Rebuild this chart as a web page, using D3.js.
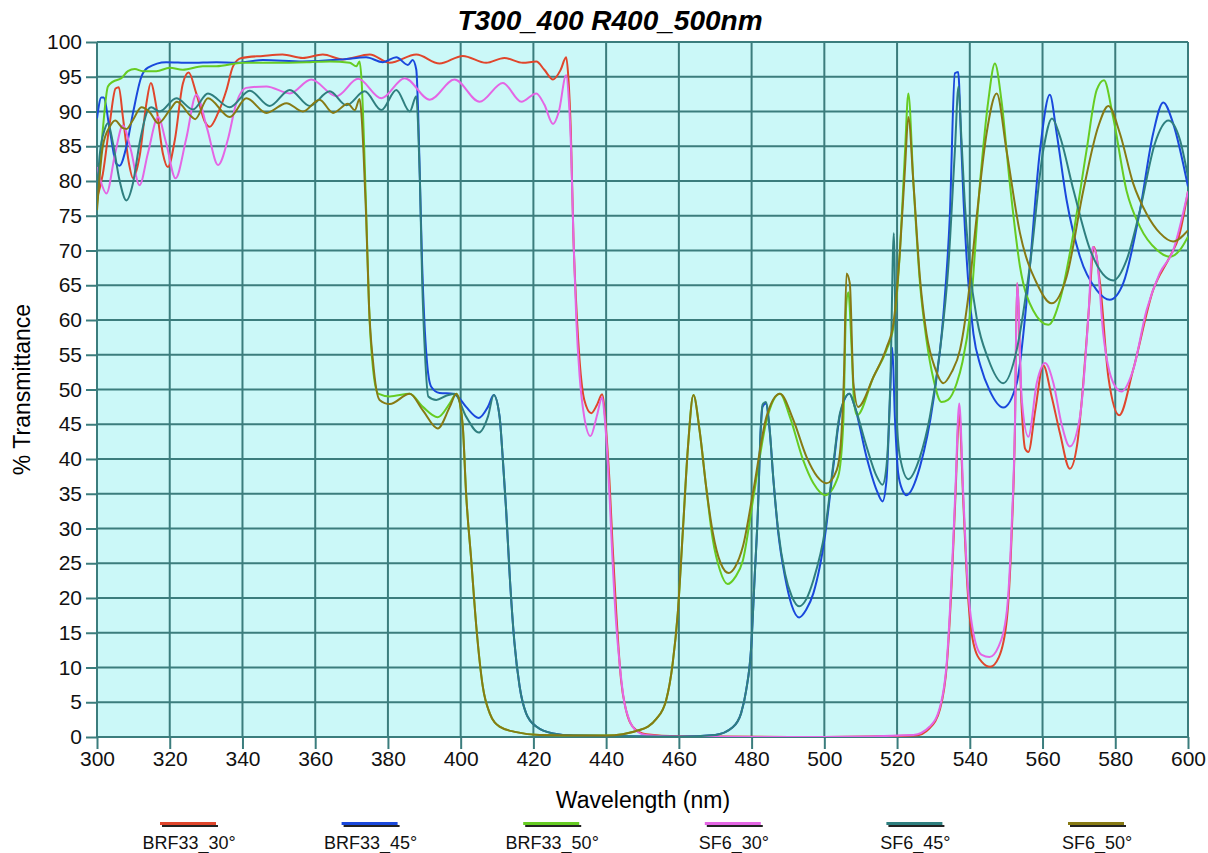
<!DOCTYPE html>
<html>
<head>
<meta charset="utf-8">
<script src="https://cdn.jsdelivr.net/npm/d3@7"></script>
<style>
  body { margin: 0; background: #fff; }
  text { font-family: "Liberation Sans", Arial, sans-serif; }
</style>
</head>
<body>
<div id="chart-holder"></div>
<script>
// Transmittance curves, [wavelength nm, % T]
const brf33_30 = [[300,77.5],[301.6,81],[303.5,88.3],[305.1,93.3],[306,93.5],[307.1,89.3],[308.8,82.5],[309.9,80.4],[311.7,83.5],[313.6,91.2],[314.8,94.1],[316.3,90.7],[318.1,84],[319.5,82],[321.4,85.9],[323.6,94],[325.2,95.6],[327.3,92.6],[329.6,88.6],[331,87.8],[333.3,89.8],[335.6,93.1],[337.4,96.5],[339.7,97.7],[345.6,98],[351,98.2],[356.6,97.7],[362.1,98.2],[367.6,97.5],[375,98.2],[380.5,97],[387.8,98.2],[394.2,96.9],[400.6,98],[407,97],[412,97.7],[417.1,97],[420.8,97.2],[423,96],[425.4,94.6],[427.5,96],[429,97.8],[429.6,95],[430.3,87],[431,72],[431.8,62],[432.7,54.2],[434,48.5],[435.9,46.6],[437.5,47.8],[438.9,49.3],[440,44.1],[440.9,37],[441.8,27.3],[442.8,17.8],[444.1,8.2],[445.5,3.8],[447.3,1.5],[451,0.4],[460,0.1],[500,0],[525,0.2],[529,1.3],[531.8,4],[533.7,10.5],[535,22],[536,34],[537.1,46.5],[538.2,34],[539.3,22],[541,13.5],[543.3,10.8],[545.6,10.1],[548,11.5],[550.2,17],[551.5,29],[552.4,44],[553,65.3],[554.2,48],[555.2,41.5],[556.1,41],[558,47],[560.2,53.5],[562.5,49],[564.8,43.7],[567.5,38.6],[569.5,42],[571.2,50.9],[572.8,62],[574.1,70.5],[575.8,65.3],[578.1,51.8],[581.1,46.3],[584.9,52.8],[590.4,64.3],[595,69.1],[597.5,72],[600,78.5]];

const brf33_45 = [[300,89],[301.2,92],[301.8,92],[303.5,87.4],[305.3,82.5],[306.2,82.2],[308.1,85],[309.9,89.8],[312.2,95],[314,96.3],[319,97.1],[325.5,97],[332.8,97.1],[338.3,97],[345.6,97.4],[356.6,97.2],[367.6,97.5],[374,97.8],[378.6,97.1],[382.3,97.8],[385.5,96.7],[386.8,97.4],[387.8,96],[388.3,90],[388.8,80],[389.4,68],[390,60],[390.7,54.2],[391.9,50.4],[394.2,49.5],[397.9,49.4],[399.2,49],[401.5,47.5],[405,45.9],[407.5,47.5],[409.1,49.2],[410.7,46.1],[411.6,39.9],[412.5,32.7],[413.5,23.1],[414.8,13.5],[416.2,7.3],[418,3.4],[420.8,1.5],[425.4,0.5],[431,0.2],[460,0.05],[470,0.3],[474.8,1.4],[477.1,3.4],[478.5,6.7],[479.9,13],[480.8,22.6],[481.7,32.1],[482.5,44.2],[483,47.5],[483.9,48],[484.9,44.5],[486,37],[487.3,29.5],[489.2,23],[491,19],[493.1,17.2],[495,18.3],[497,20.7],[500.2,29],[502.5,39],[504.3,46.3],[506.9,49.4],[508.4,47.5],[511.6,40.3],[514.4,35.5],[516,33.9],[517.1,37],[518,48],[518.7,56],[519.4,46],[520.3,38],[521.5,35.5],[522.6,34.8],[526.3,38.9],[530,48.5],[532.7,60.5],[534.5,74.9],[535.9,95.5],[536.8,95.7],[537.6,86],[538.3,77],[539.5,66],[541,58],[543,53.3],[545.5,49.8],[549.2,47.4],[552.9,50.9],[556.1,65.3],[559.3,84.4],[562,92.4],[563.9,86.8],[566.6,77.3],[570.3,69.1],[574.9,64.3],[578.5,62.9],[582.2,65.3],[586.8,75.8],[590.4,86.8],[593.2,91.3],[595.9,88.3],[600,79.2]];

const brf33_50 = [[300,76.5],[301.6,87.4],[303,93.6],[304.4,94.3],[306.7,94.8],[308.5,95.8],[310.4,96.1],[312.6,95.8],[316.3,95.8],[320,96.3],[323.6,96],[329.1,96.5],[332.8,96.5],[340.1,97],[349.3,97],[358.5,97.1],[364,97.2],[369.5,97],[371.3,96.5],[372.2,97.2],[372.8,94],[373.4,86],[374,76],[374.8,62],[375.9,53],[377.3,49.4],[380.5,49],[386,49.4],[389.6,47.5],[393.7,46],[397,48],[398.8,49.4],[399.8,48],[400.6,44.6],[401.5,35],[402.9,25.5],[404.3,15.9],[406.1,7.2],[408,3.4],[410.7,1.5],[415.3,0.7],[421.7,0.3],[440,0.2],[449.2,1],[453.8,2.6],[456.5,5.3],[458.3,10.6],[459.7,17.8],[461.1,29.7],[462.5,41.7],[464,49.2],[465.7,44.1],[467.5,36],[469.3,28.5],[471.3,24],[473.4,22],[475.5,23],[477.6,25.4],[480.5,34.5],[484.1,45.5],[487.8,49.4],[490.5,46.1],[494.2,39.8],[497,36.5],[500.2,34.8],[503.8,37.5],[505.2,45],[506,62],[506.6,64],[507.5,56],[508.2,48],[509,46.3],[513.5,51.8],[517.1,55.7],[519,59],[520.8,70],[522.2,84.4],[523.1,92.6],[524.5,79.7],[526.3,65.3],[528.1,57.1],[530,51.5],[532.2,48.2],[534,48.5],[536.4,50.9],[538,54],[540,60.5],[542.8,79.7],[545.1,91.6],[546.9,96.9],[548.7,91.6],[551,79.7],[553.8,67.7],[557.4,61.4],[561.6,59.3],[564.8,62.9],[568.5,72.5],[572.1,84.4],[574.9,93.1],[576.9,94.5],[579.4,89.2],[583.1,78.6],[586.8,73.4],[591.4,70.1],[595,69.1],[597.8,70.1],[600,72]];

const sf6_30 = [[300,82],[301,80],[302.6,78.2],[305,84],[307.1,88],[309.3,84.5],[311.7,79.4],[314,84],[316.8,89.2],[319,85.5],[321.6,80.4],[324.5,86],[327.3,92.4],[330.3,87.5],[333.3,82.3],[336,86],[338.3,91.2],[341,93.4],[346.6,93.6],[353,92.6],[358.9,94.6],[365.8,92.2],[371.8,94.7],[378.2,91.9],[384.6,94.8],[391.5,91.7],[398.3,94.6],[405.2,91.4],[411.6,94.1],[416.7,91.4],[420.8,92.6],[423,91],[425.4,88.2],[427,90],[429,95.2],[429.7,92],[430.4,84],[431,72],[431.8,60],[432.7,52],[434,46],[435.7,43.3],[437.5,46.3],[438.9,48.9],[439.6,46],[440.4,40],[441,34],[441.8,25],[442.8,16],[443.7,10.6],[445,5],[446.4,2.4],[448.5,0.8],[451,0.3],[460,0.05],[500,0],[524.5,0.3],[529,1.5],[531.8,4.3],[533.7,11],[535,23],[536,35],[537.1,48],[538.2,35],[539.3,23],[541,14.9],[543.3,11.8],[545.4,11.5],[547.9,13],[550.2,18.2],[551.5,30.2],[552.4,44.6],[553,65.3],[554.3,48.5],[556.1,43.2],[558.4,50.9],[560.7,53.8],[563,50.9],[565.2,45.1],[567.5,41.8],[570.3,46.1],[572.6,60.5],[573.8,70.5],[574.9,69],[576.7,58],[579.5,50.9],[581.7,49.7],[584.9,52.8],[588.6,61.4],[592.2,66.7],[595.9,70],[600,78.5]];

const sf6_45 = [[300,77],[300.7,83.5],[302.1,87.4],[303,88.3],[304.4,85.4],[306.2,80.1],[308.1,77.2],[309.9,79.7],[311.7,85.4],[314,90.2],[314.9,90.6],[317.2,90],[321.8,91.9],[326.4,90.3],[330.5,92.6],[336.5,90.6],[342,93],[347.5,90.8],[353,93.1],[358.5,90.8],[364,92.9],[368.6,90.9],[373.6,92.9],[378.2,90.2],[382.3,93.1],[386,90],[387.8,92.2],[388.3,88],[388.8,80],[389.4,66],[390.2,55],[391.1,49],[393.3,48.5],[396,49.1],[398.3,49.4],[401.5,46.1],[405,43.8],[407.5,46.1],[409.1,49.2],[410.7,46.1],[411.6,39.9],[412.5,32.7],[413.5,23.1],[414.8,13.5],[416.2,7.3],[418,3.4],[420.8,1.5],[425.4,0.5],[431,0.2],[460,0.05],[470,0.3],[474.8,1.4],[477.1,3.4],[478.5,6.7],[479.9,13],[480.8,22.6],[481.7,32.1],[482.5,44.2],[483,47.8],[483.9,48.2],[484.9,44.7],[486,37],[487.3,29.8],[489.2,23.5],[491,20.3],[493.1,18.8],[495,19.8],[497,22.6],[500.2,29.8],[502.5,39.4],[504.3,46.6],[506.9,49.4],[508.4,47.5],[511.6,41.8],[514.4,37.5],[516,36.3],[517.1,39],[518.2,52],[519.1,72.5],[519.9,46],[520.8,40.3],[523.1,37.1],[526.3,40.3],[529,46],[531.8,55.6],[534.1,67.7],[535.9,84.4],[536.9,93.6],[537.7,86],[538.6,77],[540,67.5],[542,60],[545,54.5],[549.2,50.9],[552.9,55.7],[556.5,67.7],[560.2,84.4],[562.6,89],[564.8,86.4],[568.5,78.7],[573.1,70.1],[579.5,65.7],[583.1,68.6],[586.8,75.8],[590.9,85.4],[594.6,88.7],[597.8,85.9],[600,80.6]];

const sf6_50 = [[300,75.8],[301.6,85],[303.5,87.8],[305,88.7],[307.1,87.6],[308.1,87.5],[309.9,88.8],[312.2,90.6],[314.5,89.9],[316.8,88.3],[320,90.2],[322,91.4],[325.5,89.5],[327,88.9],[330.5,91.9],[336.5,89.2],[341.1,91.9],[346.6,89.8],[352.1,91.2],[356.6,90],[361.2,91.7],[364.9,89.8],[369,91.1],[370.9,90.2],[372.2,91.8],[372.8,89],[373.3,84],[374,75],[374.8,62],[375.9,54],[377.7,48.5],[380.5,47.9],[386,49.4],[389.6,47],[393.7,44.4],[397,47.5],[398.8,49.4],[399.8,48],[400.6,44.6],[401.5,35],[402.9,25.5],[404.3,15.9],[406.1,7.2],[408,3.4],[410.7,1.5],[415.3,0.7],[421.7,0.3],[440,0.2],[449.2,1],[453.8,2.6],[456.5,5.3],[458.3,10.6],[459.7,17.8],[461.1,29.7],[462.5,41.7],[464,49.2],[465.7,44.1],[467.5,36],[469.3,29.5],[471.5,25],[473.7,23.6],[475.5,24.5],[477.6,27.4],[480.5,35.5],[484.1,46.1],[487.8,49.4],[491.5,45.6],[495.1,40.3],[498,37.5],[500.6,36.5],[503.4,38.4],[504.5,42],[505.4,52],[506.1,66.7],[507,65.3],[508,50.9],[509.3,47.5],[513.5,51.8],[517.1,56],[519,59.5],[520.8,70],[522.2,82],[523.1,89.2],[524.5,79.7],[526.3,66],[528.1,58],[530.5,53],[532.7,50.9],[535,52.5],[537.3,55.7],[539.5,63],[541.9,74.9],[544.6,86.8],[547.4,92.6],[550.1,84.4],[553.8,72.5],[558.4,65.3],[562.5,62.4],[566.6,66.2],[571.2,78.6],[575.3,87.8],[578.1,90.8],[581.3,86.8],[584.9,79.7],[588.6,75.3],[592.3,72.5],[595.9,71.3],[600,72.9]];

const seriesNames = ["BRF33_30°", "BRF33_45°", "BRF33_50°", "SF6_30°", "SF6_45°", "SF6_50°"];
const seriesData = [brf33_30, brf33_45, brf33_50, sf6_30, sf6_45, sf6_50];
const seriesColors = ["#e0462c", "#1a48dc", "#66cc22", "#e466e4", "#2f7f7f", "#877a14"];
const xTicks = d3.range(300, 601, 20);
const yTicks = d3.range(0, 101, 5);

const width = 1208;
const height = 853;
const marginTop = 42;
const marginRight = 20;
const marginBottom = 116;
const marginLeft = 97;
const gridColor = "#3b7d7d";

const svg = d3
  .select("#chart-holder")
  .append("svg")
  .attr("width", width)
  .attr("height", height);

const x = d3
  .scaleLinear()
  .domain([300, 600])
  .range([marginLeft, width - marginRight]);

const y = d3
  .scaleLinear()
  .domain([0, 100])
  .range([height - marginBottom, marginTop]);

// plot background
svg
  .append("rect")
  .attr("x", x(300))
  .attr("y", y(100))
  .attr("width", x(600) - x(300))
  .attr("height", y(0) - y(100))
  .attr("fill", "#cbf8f8");

// grid
svg
  .append("g")
  .selectAll("line")
  .data(xTicks)
  .join("line")
  .attr("x1", (d) => x(d))
  .attr("x2", (d) => x(d))
  .attr("y1", y(0))
  .attr("y2", y(100))
  .attr("stroke", gridColor)
  .attr("stroke-width", 2);

svg
  .append("g")
  .selectAll("line")
  .data(yTicks)
  .join("line")
  .attr("x1", x(300))
  .attr("x2", x(600))
  .attr("y1", (d) => y(d))
  .attr("y2", (d) => y(d))
  .attr("stroke", gridColor)
  .attr("stroke-width", 2);

// axes
const xAxis = svg
  .append("g")
  .attr("transform", `translate(0,${y(0)})`)
  .call(d3.axisBottom(x).tickValues(xTicks).tickSize(12).tickPadding(2));

const yAxis = svg
  .append("g")
  .attr("transform", `translate(${x(300)},0)`)
  .call(d3.axisLeft(y).tickValues(yTicks).tickSize(11).tickPadding(4));

[xAxis, yAxis].forEach((g) => {
  g.select(".domain").remove();
  g.selectAll(".tick line").attr("stroke", gridColor).attr("stroke-width", 2);
  g.selectAll(".tick text")
    .attr("fill", "#111")
    .style("font-size", "21px")
    .style("font-family", "'Liberation Sans', Arial, sans-serif");
});

// curves
svg
  .append("clipPath")
  .attr("id", "plot-clip")
  .append("rect")
  .attr("x", x(300))
  .attr("y", y(100))
  .attr("width", x(600) - x(300))
  .attr("height", y(0) - y(100));

const line = d3
  .line()
  .x((d) => x(d[0]))
  .y((d) => y(d[1]))
  .curve(d3.curveMonotoneX);

svg
  .append("g")
  .attr("clip-path", "url(#plot-clip)")
  .selectAll("path")
  .data(seriesData)
  .join("path")
  .attr("d", line)
  .attr("fill", "none")
  .attr("stroke", (d, i) => seriesColors[i])
  .attr("stroke-width", 2)
  .attr("stroke-linejoin", "round");

// titles
svg
  .append("text")
  .attr("x", 610)
  .attr("y", 30)
  .attr("text-anchor", "middle")
  .style("font-size", "28px")
  .style("font-weight", "bold")
  .style("font-style", "italic")
  .text("T300_400 R400_500nm");

svg
  .append("text")
  .attr("x", 643)
  .attr("y", 808)
  .attr("text-anchor", "middle")
  .style("font-size", "23px")
  .text("Wavelength (nm)");

svg
  .append("text")
  .attr("transform", `translate(30,${y(50)}) rotate(-90)`)
  .attr("text-anchor", "middle")
  .style("font-size", "23px")
  .text("% Transmittance");

// legend
const legend = svg
  .append("g")
  .selectAll("g")
  .data(seriesNames)
  .join("g")
  .attr("transform", (d, i) => `translate(${189 + i * 181.6},0)`);

legend
  .append("line")
  .attr("x1", -27)
  .attr("x2", 29)
  .attr("y1", 826)
  .attr("y2", 826)
  .attr("stroke", "#222")
  .attr("stroke-width", 2);

legend
  .append("line")
  .attr("x1", -29)
  .attr("x2", 27)
  .attr("y1", 823.5)
  .attr("y2", 823.5)
  .attr("stroke", (d, i) => seriesColors[i])
  .attr("stroke-width", 3);

legend
  .append("text")
  .attr("y", 849)
  .attr("text-anchor", "middle")
  .style("font-size", "18px")
  .attr("fill", "#111")
  .text((d) => d);
</script>
</body>
</html>
